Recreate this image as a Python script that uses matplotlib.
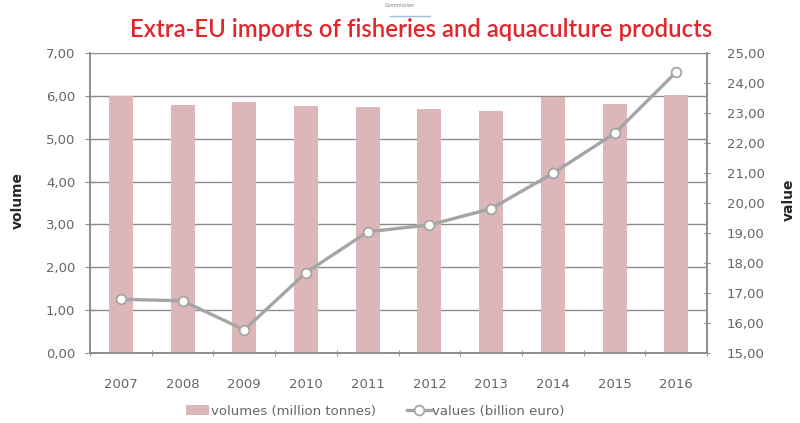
import matplotlib.pyplot as plt
import numpy as np

years = ["2007", "2008", "2009", "2010", "2011", "2012", "2013", "2014", "2015", "2016"]
volumes = [6.00, 5.79, 5.86, 5.76, 5.73, 5.69, 5.65, 5.98, 5.80, 6.02]
values = [16.79, 16.74, 15.77, 17.68, 19.04, 19.27, 19.81, 20.99, 22.32, 24.37]

bar_color = "#dcb6b8"
line_color = "#a5a5a5"
text_color = "#666666"
grid_color = "#8c8c8c"


def fmt(v, pos=None):
    return f"{v:.2f}".replace(".", ",")


fig = plt.figure(figsize=(8, 4.23), dpi=100)
ax = fig.add_axes([0.1125, 0.1655, 0.7715, 0.7092])
ax2 = ax.twinx()

x = np.arange(len(years))
ax.bar(x, volumes, width=0.39, color=bar_color, zorder=3,
       label="volumes (million tonnes)")
ax2.plot(x, values, color=line_color, linewidth=2.4, marker="o", markersize=7,
         markerfacecolor="white", markeredgecolor=line_color, markeredgewidth=1.3,
         zorder=4, label="values (billion euro)")

ax.set_xlim(-0.5, len(years) - 0.5)
ax.set_ylim(0, 7)
ax.set_yticks(np.arange(0, 8, 1))
ax.yaxis.set_major_formatter(plt.FuncFormatter(fmt))
ax.grid(True, axis="y", color=grid_color, linewidth=1.0, zorder=0)
ax.set_axisbelow(True)

ax2.set_ylim(15, 25)
ax2.set_yticks(np.arange(15, 26, 1))
ax2.yaxis.set_major_formatter(plt.FuncFormatter(fmt))

ax.set_xticks(x)
ax.set_xticklabels(years)
ax.set_xticks(np.arange(-0.5, len(years), 1), minor=True)
ax.tick_params(axis="x", which="major", length=0, pad=18, colors=text_color, labelsize=9.5)
ax.tick_params(axis="x", which="minor", length=4, direction="inout", color=grid_color)
ax.tick_params(axis="y", length=7, direction="inout", color=grid_color,
               colors=text_color, labelsize=9.5, pad=7)
ax2.tick_params(axis="y", length=4, direction="inout", color=grid_color,
                colors=text_color, labelsize=9.5, pad=12)

for a in (ax, ax2):
    for s in a.spines.values():
        s.set_color(grid_color)
        s.set_linewidth(1.2)
    a.spines["top"].set_visible(False)

# axis titles placed by figure pixels
fig.text(18 / 800, 1 - 200 / 423, "volume", rotation=90, ha="center", va="center",
         fontsize=10, fontweight="bold", color="#262626")
fig.text(789 / 800, 1 - 200 / 423, "value", rotation=90, ha="center", va="center",
         fontsize=10, fontweight="bold", color="#262626")

fig.text(0.526, 0.93, "Extra-EU imports of fisheries and aquaculture products",
         ha="center", va="center", color="#e3262d", fontsize=17.2,
         family="Lato", fontweight="semibold")
fig.text(0.5, 0.993, "Commission", ha="center", va="top", color="#7a7a7a", fontsize=3.5)
fig.lines.append(plt.Line2D([0.487, 0.537], [0.962, 0.962], color="#9bbfe0",
                            linewidth=1, transform=fig.transFigure))

h1, l1 = ax.get_legend_handles_labels()
h2, l2 = ax2.get_legend_handles_labels()
fig.legend(h1 + h2, l1 + l2, loc="center", bbox_to_anchor=(0.469, 0.028), ncol=2,
           frameon=False, fontsize=9.5, labelcolor=text_color, handlelength=1.8,
           handletextpad=0.1, columnspacing=2.4)

fig.savefig("out.png", dpi=100)
